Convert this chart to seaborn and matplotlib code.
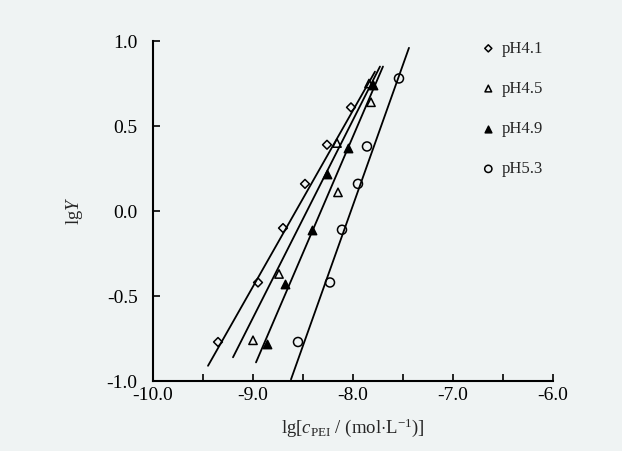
import numpy as np
import pandas as pd
import seaborn as sns
import matplotlib.pyplot as plt
from matplotlib.ticker import MultipleLocator, FormatStrFormatter

# data
series = ["pH4.1", "pH4.5", "pH4.9", "pH5.3"]
lgc_41 = [-9.35, -8.95, -8.70, -8.48, -8.26, -8.02]
lgy_41 = [-0.77, -0.42, -0.10, 0.16, 0.39, 0.61]
lgc_45 = [-9.00, -8.74, -8.15, -8.16, -7.82, -7.84]
lgy_45 = [-0.76, -0.37, 0.11, 0.40, 0.64, 0.75]
lgc_49 = [-8.86, -8.68, -8.41, -8.26, -8.05, -7.80]
lgy_49 = [-0.78, -0.43, -0.11, 0.22, 0.37, 0.74]
lgc_53 = [-8.55, -8.23, -8.11, -7.95, -7.86, -7.54]
lgy_53 = [-0.77, -0.42, -0.11, 0.16, 0.38, 0.78]
# straight lines as drawn in the figure (start / end of each line)
line_x0 = [-9.45, -9.20, -8.97, -8.62]
line_y0 = [-0.91, -0.86, -0.89, -0.99]
line_x1 = [-7.78, -7.73, -7.70, -7.44]
line_y1 = [0.82, 0.85, 0.85, 0.96]

xs = [lgc_41, lgc_45, lgc_49, lgc_53]
ys = [lgy_41, lgy_45, lgy_49, lgy_53]

df = pd.concat(
    [pd.DataFrame({"lgc": x, "lgY": y, "pH": s}) for x, y, s in zip(xs, ys, series)],
    ignore_index=True,
)
lines = pd.DataFrame({
    "lgc": line_x0 + line_x1,
    "lgY": line_y0 + line_y1,
    "pH": series + series,
})

sns.set_theme(style="ticks")
plt.rcParams["font.family"] = ["Liberation Serif", "DejaVu Serif"]
plt.rcParams["mathtext.fontset"] = "custom"
plt.rcParams["mathtext.rm"] = "Liberation Serif"
plt.rcParams["mathtext.it"] = "Liberation Serif:italic"
plt.rcParams["axes.unicode_minus"] = False

bg = "#eff3f3"
fig = plt.figure(figsize=(6.22, 4.51), dpi=100, facecolor=bg)
ax = fig.add_axes([0.246, 0.155, 0.643, 0.754])
ax.set_facecolor(bg)

for s in series:
    sns.lineplot(data=lines[lines["pH"] == s], x="lgc", y="lgY", ax=ax,
                 color="black", lw=1.3, zorder=2, legend=False, sort=False)

markers = {"pH4.1": "D", "pH4.5": "^", "pH4.9": "^", "pH5.3": "o"}
faces = {"pH4.1": "none", "pH4.5": "none", "pH4.9": "black", "pH5.3": "none"}
sizes = {"pH4.1": 4.5, "pH4.5": 6, "pH4.9": 6, "pH5.3": 6.5}
for s in series:
    sub = df[df["pH"] == s]
    sns.scatterplot(
        data=sub, x="lgc", y="lgY", ax=ax, marker=markers[s], s=sizes[s] ** 2,
        facecolor=faces[s], edgecolor="black", linewidth=1.1, zorder=3,
        label=s, legend=True,
    )

ax.set_xlim(-10, -6)
ax.set_ylim(-1, 1)
ax.xaxis.set_major_locator(MultipleLocator(1.0))
ax.xaxis.set_minor_locator(MultipleLocator(0.5))
ax.yaxis.set_major_locator(MultipleLocator(0.5))
ax.xaxis.set_major_formatter(FormatStrFormatter("%.1f"))
ax.yaxis.set_major_formatter(FormatStrFormatter("%.1f"))
ax.tick_params(which="both", direction="in", length=5, width=1.2, labelsize=14,
               colors="black")
ax.tick_params(axis="x", pad=4)
ax.tick_params(axis="y", pad=11)
for side in ["top", "right"]:
    ax.spines[side].set_visible(False)
for side in ["left", "bottom"]:
    ax.spines[side].set_linewidth(1.5)
    ax.spines[side].set_color("black")

ax.set_xlabel(r"lg[$c_{\rm PEI}$ / (mol$\cdot$L$^{-1}$)]", fontsize=13.5, labelpad=9)
ax.set_ylabel(r"lg$Y$", fontsize=13.5, labelpad=16)

leg = ax.legend(loc="upper left", bbox_to_anchor=(0.78, 1.045), frameon=False,
                fontsize=12, handletextpad=0.3, labelspacing=1.45,
                handlelength=1.0, markerscale=0.8)

fig.savefig("out.png", dpi=100, facecolor=bg)
